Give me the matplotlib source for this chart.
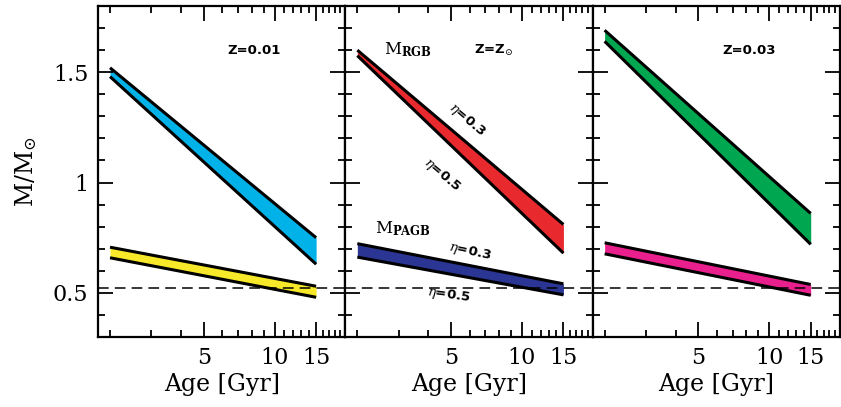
import matplotlib
matplotlib.use("Agg")
import matplotlib.pyplot as plt
import matplotlib.ticker as mticker
import numpy as np

plt.rcParams['font.family'] = 'DejaVu Serif'
plt.rcParams['mathtext.fontset'] = 'dejavuserif'

# ages (Gyr) at the ends of each band
ages = [2, 15]

# panel metallicity labels
panel_labels = ['Z=0.01', r'Z=Z$_{\odot}$', 'Z=0.03']

# RGB mass bands: eta=0.3 (upper) and eta=0.5 (lower)
rgb_hi = [[1.52, 0.75], [1.60, 0.81], [1.69, 0.86]]
rgb_lo = [[1.48, 0.63], [1.575, 0.68], [1.64, 0.72]]
# PAGB mass bands
pagb_hi = [[0.707, 0.530], [0.723, 0.541], [0.727, 0.538]]
pagb_lo = [[0.659, 0.480], [0.662, 0.491], [0.677, 0.489]]

rgb_colors = ['#00b2e8', '#e8292e', '#00a650']
pagb_colors = ['#f7e829', '#2b3593', '#ea1f8e']

dash_level = 0.522

fig = plt.figure(figsize=(8.41, 4.07), dpi=100)
left, bottom, w, h = 98/841, 1-337/407, 247.3/841, 331/407
axes = []
for i in range(3):
    ax = fig.add_axes([left + i*w, bottom, w, h])
    axes.append(ax)

for i, ax in enumerate(axes):
    ax.fill_between(ages, rgb_lo[i], rgb_hi[i], color=rgb_colors[i], lw=0)
    ax.plot(ages, rgb_hi[i], color='k', lw=2.2, solid_capstyle='butt')
    ax.plot(ages, rgb_lo[i], color='k', lw=2.2, solid_capstyle='butt')
    ax.fill_between(ages, pagb_lo[i], pagb_hi[i], color=pagb_colors[i], lw=0)
    ax.plot(ages, pagb_hi[i], color='k', lw=2.2, solid_capstyle='butt')
    ax.plot(ages, pagb_lo[i], color='k', lw=2.2, solid_capstyle='butt')
    ax.axhline(dash_level, color='k', lw=1.1, dashes=(7, 4))

    ax.set_xscale('log')
    ax.set_xlim(10**0.25, 10**1.3)
    ax.set_ylim(0.3, 1.8)
    ax.xaxis.set_major_locator(mticker.FixedLocator([5, 10, 15]))
    ax.xaxis.set_minor_locator(mticker.FixedLocator(
        [2, 3, 4, 6, 7, 8, 9, 11, 12, 13, 14, 16, 17, 18, 19, 20]))
    ax.xaxis.set_major_formatter(mticker.FixedFormatter(['5', '10', '15']))
    ax.xaxis.set_minor_formatter(mticker.NullFormatter())
    ax.yaxis.set_major_locator(mticker.FixedLocator([0.5, 1.0, 1.5]))
    ax.yaxis.set_minor_locator(mticker.MultipleLocator(0.1))
    ax.yaxis.set_major_formatter(mticker.FixedFormatter(['0.5', '1', '1.5']))
    ax.tick_params(which='both', direction='in', top=True, right=True,
                   width=1.3, labelsize=16, pad=7)
    ax.tick_params(which='major', length=11)
    ax.tick_params(which='minor', length=5)
    if i > 0:
        ax.tick_params(labelleft=False)
    for s in ax.spines.values():
        s.set_linewidth(1.6)
    ax.set_xlabel('Age [Gyr]', fontsize=17, labelpad=3)

    ax.text(8.2 if i != 1 else 7.6, 1.6, panel_labels[i], family='DejaVu Sans',
            fontweight='bold', fontsize=9.5, ha='center', va='center')

axes[0].set_ylabel(r'M/M$_{\odot}$', fontsize=17, labelpad=10)

ax = axes[1]
ax.text(2.6, 1.6, r'M$_{\mathbf{RGB}}$', fontsize=12, ha='left', va='center')
ax.text(2.38, 0.79, r'M$_{\mathbf{PAGB}}$', fontsize=12, ha='left', va='center')
ax.text(5.85, 1.285, r'$\eta$=0.3', family='DejaVu Sans', fontweight='bold',
        fontsize=9.5, rotation=-40, ha='center', va='center')
ax.text(4.57, 1.035, r'$\eta$=0.5', family='DejaVu Sans', fontweight='bold',
        fontsize=9.5, rotation=-40, ha='center', va='center')
ax.text(6.0, 0.685, r'$\eta$=0.3', family='DejaVu Sans', fontweight='bold',
        fontsize=9.5, rotation=-12, ha='center', va='center')
ax.text(4.9, 0.488, r'$\eta$=0.5', family='DejaVu Sans', fontweight='bold',
        fontsize=9.5, rotation=-8, ha='center', va='center')

fig.savefig('out.png', dpi=100)
